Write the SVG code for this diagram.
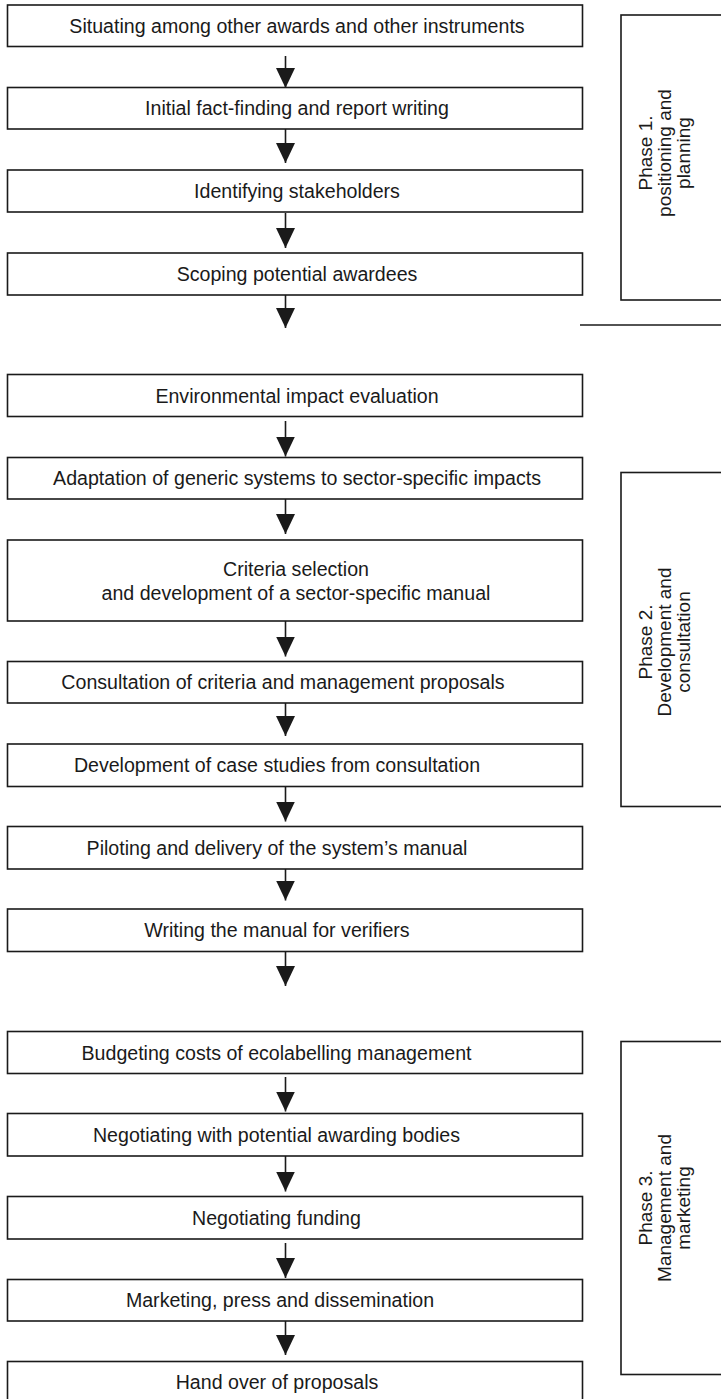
<svg xmlns="http://www.w3.org/2000/svg" width="721" height="1399" viewBox="0 0 721 1399">
<style>
.box{fill:#fff;stroke:#1a1a1a;stroke-width:1.6}
.ph{fill:none;stroke:#1a1a1a;stroke-width:1.6}
.t{font-family:"Liberation Sans",Arial,sans-serif;font-size:19.6px;fill:#1a1a1a;text-anchor:middle}
.pt{font-family:"Liberation Sans",Arial,sans-serif;font-size:19px;fill:#1a1a1a;text-anchor:middle}
.c{stroke:#1a1a1a;stroke-width:1.6;fill:none;marker-end:url(#ah)}
</style>
<defs>
<marker id="ah" markerUnits="userSpaceOnUse" markerWidth="20" markerHeight="19" refX="20" refY="9.5" orient="auto">
<path d="M0,0 L20,9.5 L0,19 Z" fill="#1a1a1a"/>
</marker>
</defs>
<g id="connectors">
<line class="c" x1="285.5" y1="56" x2="285.5" y2="88"/>
<line class="c" x1="285.5" y1="129" x2="285.5" y2="163"/>
<line class="c" x1="285.5" y1="213" x2="285.5" y2="248"/>
<line class="c" x1="285.5" y1="295" x2="285.5" y2="328"/>
<line class="c" x1="285.5" y1="421" x2="285.5" y2="456.5"/>
<line class="c" x1="285.5" y1="499" x2="285.5" y2="534"/>
<line class="c" x1="285.5" y1="621" x2="285.5" y2="656.5"/>
<line class="c" x1="285.5" y1="703" x2="285.5" y2="736"/>
<line class="c" x1="285.5" y1="786.5" x2="285.5" y2="821.5"/>
<line class="c" x1="285.5" y1="866" x2="285.5" y2="900.5"/>
<line class="c" x1="285.5" y1="951.5" x2="285.5" y2="986"/>
<line class="c" x1="285.5" y1="1077" x2="285.5" y2="1111.5"/>
<line class="c" x1="285.5" y1="1156" x2="285.5" y2="1191.5"/>
<line class="c" x1="285.5" y1="1243" x2="285.5" y2="1278"/>
<line class="c" x1="285.5" y1="1321" x2="285.5" y2="1355"/>
</g>
<g id="n1"><rect class="box" x="7.5" y="5" width="575" height="41.5"/><text class="t" x="297" y="32.5">Situating among other awards and other instruments</text></g>
<g id="n2"><rect class="box" x="7.5" y="87.5" width="575" height="41.5"/><text class="t" x="297" y="115">Initial fact-finding and report writing</text></g>
<g id="n3"><rect class="box" x="7.5" y="170" width="575" height="42"/><text class="t" x="297" y="198">Identifying stakeholders</text></g>
<g id="n4"><rect class="box" x="7.5" y="253" width="575" height="42"/><text class="t" x="297" y="281">Scoping potential awardees</text></g>
<g id="n5"><rect class="box" x="7.5" y="374.5" width="575" height="42"/><text class="t" x="297" y="402.5">Environmental impact evaluation</text></g>
<g id="n6"><rect class="box" x="7.5" y="457.5" width="575" height="41.5"/><text class="t" x="297" y="485">Adaptation of generic systems to sector-specific impacts</text></g>
<g id="n7"><rect class="box" x="7.5" y="540" width="575" height="81"/><text class="t" x="296" y="576">Criteria selection</text><text class="t" x="296" y="600">and development of a sector-specific manual</text></g>
<g id="n8"><rect class="box" x="7.5" y="661.5" width="575" height="41.5"/><text class="t" x="283" y="689">Consultation of criteria and management proposals</text></g>
<g id="n9"><rect class="box" x="7.5" y="744" width="575" height="42.5"/><text class="t" x="277" y="772">Development of case studies from consultation</text></g>
<g id="n10"><rect class="box" x="7.5" y="826.5" width="575" height="42.5"/><text class="t" x="277" y="854.5">Piloting and delivery of the system’s manual</text></g>
<g id="n11"><rect class="box" x="7.5" y="909" width="575" height="42.5"/><text class="t" x="277" y="937">Writing the manual for verifiers</text></g>
<g id="n12"><rect class="box" x="7.5" y="1031.5" width="575" height="42"/><text class="t" x="276.5" y="1059.5">Budgeting costs of ecolabelling management</text></g>
<g id="n13"><rect class="box" x="7.5" y="1113.5" width="575" height="42.5"/><text class="t" x="276.5" y="1141.5">Negotiating with potential awarding bodies</text></g>
<g id="n14"><rect class="box" x="7.5" y="1196.5" width="575" height="42.5"/><text class="t" x="276.5" y="1224.5">Negotiating funding</text></g>
<g id="n15"><rect class="box" x="7.5" y="1279.5" width="575" height="41.5"/><text class="t" x="280" y="1307">Marketing, press and dissemination</text></g>
<g id="n16"><rect class="box" x="7.5" y="1361.5" width="575" height="45"/><text class="t" x="277" y="1389">Hand over of proposals</text></g>
<g id="phase1"><rect class="ph" x="621" y="15" width="110" height="285"/>
<text class="pt" transform="translate(671,153) rotate(-90)"><tspan x="0" y="-19">Phase 1.</tspan><tspan x="0" y="0">positioning and</tspan><tspan x="0" y="19">planning</tspan></text></g>
<line id="divider" x1="580" y1="325" x2="721" y2="325" stroke="#1a1a1a" stroke-width="1.6"/>
<g id="phase2"><rect class="ph" x="621" y="472.5" width="110" height="334"/>
<text class="pt" transform="translate(671,642) rotate(-90)"><tspan x="0" y="-19">Phase 2.</tspan><tspan x="0" y="0">Development and</tspan><tspan x="0" y="19">consultation</tspan></text></g>
<g id="phase3"><rect class="ph" x="621" y="1041.5" width="110" height="333"/>
<text class="pt" transform="translate(671,1208) rotate(-90)"><tspan x="0" y="-19">Phase 3.</tspan><tspan x="0" y="0">Management and</tspan><tspan x="0" y="19">marketing</tspan></text></g>
</svg>
